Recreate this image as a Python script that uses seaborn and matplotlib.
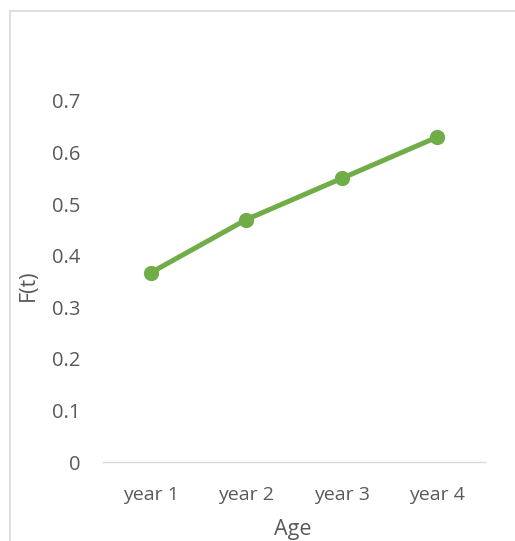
import matplotlib
matplotlib.use("Agg")
import matplotlib.pyplot as plt
from matplotlib.lines import Line2D
import seaborn as sns
import pandas as pd

categories = ["year 1", "year 2", "year 3", "year 4"]
values = [0.367, 0.47, 0.55, 0.63]
y_ticks = [0, 0.1, 0.2, 0.3, 0.4, 0.5, 0.6, 0.7]
y_tick_labels = ["0", "0.1", "0.2", "0.3", "0.4", "0.5", "0.6", "0.7"]

sns.set_theme(style="white")
plt.rcParams["font.family"] = ["Open Sans", "DejaVu Sans"]

W, H = 515, 541
fig = plt.figure(figsize=(W / 100, H / 100), dpi=100)
ax = fig.add_axes([103 / W, 1 - 462 / H, (485 - 103) / W, (462 - 101) / H])

df = pd.DataFrame({"Age": categories, "F(t)": values})
x_pos = list(range(len(categories)))
sns.lineplot(x=x_pos, y=df["F(t)"], ax=ax, color="#70AD47", linewidth=3.6,
             marker="o", markersize=11, markeredgewidth=0, clip_on=False)

ax.set_xlim(-0.5, len(categories) - 0.5)
ax.set_ylim(0, 0.7)
ax.set_xticks(x_pos)
ax.set_xticklabels(categories)
ax.set_yticks(y_ticks)
ax.set_yticklabels(y_tick_labels)

text_color = "#595959"
ax.tick_params(axis="x", length=0, pad=17, labelsize=14, labelcolor=text_color)
ax.tick_params(axis="y", length=0, pad=16.5, labelsize=14.5, labelcolor=text_color)

for side in ["top", "right", "left"]:
    ax.spines[side].set_visible(False)
ax.spines["bottom"].set_color("#d9d9d9")
ax.spines["bottom"].set_linewidth(1.0)

ax.set_xlabel("Age", fontsize=15.5, color=text_color)
ax.set_ylabel("F(t)", fontsize=15.5, color=text_color)
ax.xaxis.set_label_coords(0.497, (462 - 519) / 361)
ax.yaxis.set_label_coords((39 - 103) / 382, (462 - 285) / 361)

# chart frame (left and top edges)
fig.add_artist(Line2D([9.5 / W, 9.5 / W], [0, 1 - 11 / H], transform=fig.transFigure,
                      color="#d9d9d9", linewidth=1.2))
fig.add_artist(Line2D([9.5 / W, 1], [1 - 11 / H, 1 - 11 / H], transform=fig.transFigure,
                      color="#d9d9d9", linewidth=1.2))

fig.savefig("out.png", dpi=100, facecolor="white")
